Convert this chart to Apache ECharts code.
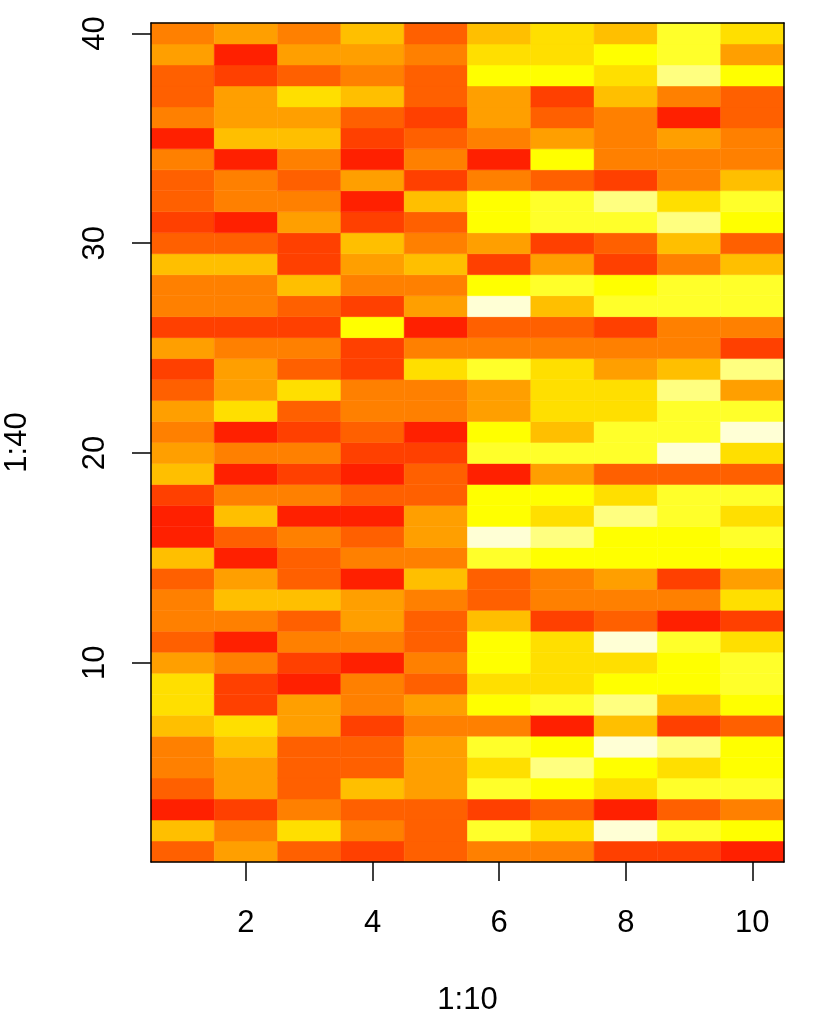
<!DOCTYPE html>
<html>
<head>
<meta charset="utf-8">
<title>image(1:10, 1:40, z)</title>
<script src="https://cdn.jsdelivr.net/npm/echarts@6/dist/echarts.min.js"></script>
<style>
  html, body { margin: 0; padding: 0; background: #fff; }
  #main { width: 826px; height: 1014px; }
</style>
</head>
<body>
<div id="main"></div>
<script>
// colour level (1 = darkest red ... 11 = palest yellow) per column, rows 1..40
var c1  = [3,6,1,3,4,4,6,7,7,5, 3,4,4,3,6,1,1,2,6,5, 4,5,3,2,5,2,4,4,6,3, 2,3,3,4,1,4,3,3,5,4];
var c2  = [5,4,2,5,5,6,7,2,2,4, 1,4,6,5,1,3,6,4,1,4, 1,7,5,5,4,2,4,4,6,3, 1,4,4,1,6,5,5,2,1,5];
var c3  = [3,7,4,3,3,3,5,5,1,2, 4,3,6,3,3,4,1,4,2,4, 2,3,7,3,4,2,3,6,2,2, 5,4,3,4,6,5,7,3,5,4];
var c4  = [2,4,3,6,3,3,2,4,4,1, 4,5,5,1,4,3,1,3,1,2, 3,4,4,2,2,8,2,4,5,6, 2,1,5,1,2,3,6,4,5,6];
var c5  = [3,3,3,5,5,5,4,5,3,4, 3,3,4,6,4,5,5,3,3,2, 1,4,4,7,4,1,5,4,6,4, 3,6,2,4,3,2,3,3,4,3];
var c6  = [4,9,2,9,7,9,4,8,7,8, 8,6,3,3,9,11,8,8,1,9, 8,5,5,9,4,3,11,8,2,5, 8,8,4,1,4,5,5,8,7,6];
var c7  = [4,7,3,8,10,8,1,9,7,7, 7,2,4,4,8,10,7,8,5,9, 6,7,7,7,4,3,6,9,5,2, 9,9,3,8,5,3,2,8,7,7];
var c8  = [2,11,1,7,8,11,6,10,8,7, 11,3,4,5,8,8,10,7,3,9, 9,7,7,5,4,2,9,8,2,3, 9,10,2,4,4,4,6,7,8,6];
var c9  = [2,9,3,9,7,10,2,6,8,8, 9,1,4,2,8,8,9,9,3,11, 9,9,10,6,4,4,9,9,4,6, 10,7,4,4,5,1,4,10,9,9];
var c10 = [1,8,4,9,8,8,3,8,9,9, 7,2,7,5,8,9,7,9,3,7, 11,9,5,10,2,4,9,9,6,3, 8,9,6,4,4,3,3,8,5,7];

var columns = [c1, c2, c3, c4, c5, c6, c7, c8, c9, c10];
var heatColors = ['#FF2000','#FF4000','#FF6000','#FF8000','#FF9F00','#FFBF00',
                  '#FFDF00','#FFFF00','#FFFF2A','#FFFF80','#FFFFD5'];
var xTicks = [2, 4, 6, 8, 10];
var yTicks = [10, 20, 30, 40];

var cells = [];
columns.forEach(function (col, i) {
	col.forEach(function (v, j) {
		cells.push([i + 1, j + 1, v]);
	});
});

var font = "'Liberation Sans', Arial, Helvetica, sans-serif";
var pieces = heatColors.map(function (c, k) {
	return { value: k + 1, color: c };
});

var chart = echarts.init(document.getElementById('main'));
var option = {
	backgroundColor: '#fff',
	animation: false,
	grid: { left: 151, top: 23, width: 633, height: 839, outerBoundsMode: 'none', containLabel: false },
	visualMap: {
		type: 'piecewise',
		show: false,
		dimension: 2,
		pieces: pieces,
		seriesIndex: 0
	},
	xAxis: [{
		type: 'value',
		min: 0.5,
		max: 10.5,
		position: 'bottom',
		z: 5,
		name: '1:10',
		nameLocation: 'middle',
		nameGap: 123,
		nameTextStyle: { color: '#000', fontSize: 31, fontFamily: font },
		axisLine: { show: true, onZero: false, lineStyle: { color: '#000', width: 1.5 } },
		axisTick: { show: true, inside: false, length: 19, customValues: xTicks,
			lineStyle: { color: '#000', width: 1.5 } },
		axisLabel: { customValues: xTicks, margin: 46, color: '#000', fontSize: 31, fontFamily: font },
		splitLine: { show: false }
	}, {
		type: 'value',
		min: 0.5,
		max: 10.5,
		position: 'top',
		z: 5,
		axisLine: { show: true, onZero: false, lineStyle: { color: '#000', width: 1.5 } },
		axisTick: { show: false },
		axisLabel: { show: false },
		splitLine: { show: false }
	}],
	yAxis: [{
		type: 'value',
		min: 0.5,
		max: 40.5,
		position: 'left',
		z: 5,
		name: '1:40',
		nameLocation: 'middle',
		nameGap: 118,
		nameRotate: 90,
		nameTextStyle: { color: '#000', fontSize: 31, fontFamily: font },
		axisLine: { show: true, onZero: false, lineStyle: { color: '#000', width: 1.5 } },
		axisTick: { show: true, inside: false, length: 19, customValues: yTicks,
			lineStyle: { color: '#000', width: 1.5 } },
		axisLabel: { customValues: yTicks, rotate: 90, margin: 40, color: '#000', fontSize: 31, fontFamily: font },
		splitLine: { show: false }
	}, {
		type: 'value',
		min: 0.5,
		max: 40.5,
		position: 'right',
		z: 5,
		axisLine: { show: true, onZero: false, lineStyle: { color: '#000', width: 1.5 } },
		axisTick: { show: false },
		axisLabel: { show: false },
		splitLine: { show: false }
	}],
	series: [{
		type: 'custom',
		xAxisIndex: 0,
		yAxisIndex: 0,
		z: 1,
		data: cells,
		encode: { x: 0, y: 1 },
		renderItem: function (params, api) {
			var x = api.value(0), y = api.value(1);
			var p0 = api.coord([x - 0.5, y + 0.5]);
			var p1 = api.coord([x + 0.5, y - 0.5]);
			var c = api.visual('color');
			return {
				type: 'rect',
				shape: { x: p0[0], y: p0[1], width: p1[0] - p0[0], height: p1[1] - p0[1] },
				style: { fill: c, stroke: c, lineWidth: 0.5 }
			};
		}
	}]
};
chart.setOption(option);
</script>
</body>
</html>
